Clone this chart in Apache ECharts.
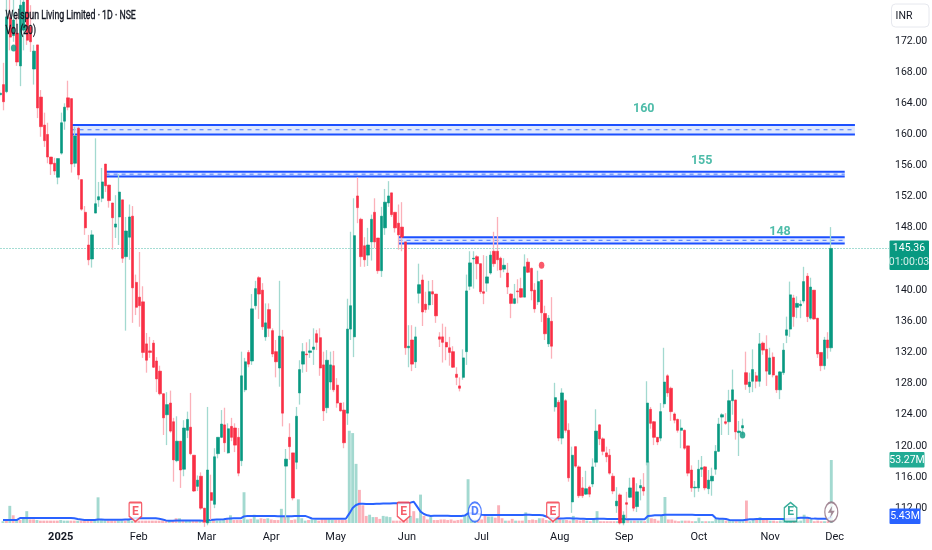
<!DOCTYPE html>
<html><head><meta charset="utf-8">
<style>html,body{margin:0;padding:0;background:#fff}#c{width:932px;height:550px}</style>
<script src="https://cdn.jsdelivr.net/npm/echarts@6/dist/echarts.min.js"></script>
</head><body><div id="c"></div>
<script>
const opens=[165.1,166.4,165.5,175.0,172.7,173.0,168.8,173.4,177.3,173.8,
168.4,171.5,164.8,161.2,160.0,157.1,156.3,154.5,157.6,161.7,
164.7,164.6,156.3,160.8,154.2,150.0,145.8,144.0,149.9,151.6,
151.8,156.2,153.5,151.2,148.1,149.4,151.6,144.3,146.8,149.5,
141.0,139.1,138.5,133.1,132.2,133.2,130.9,129.6,126.7,124.0,
125.5,123.1,118.1,120.6,117.0,122.0,122.4,118.8,114.8,116.1,
112.0,110.1,114.0,112.5,119.0,121.1,122.7,119.1,122.5,122.3,
121.1,118.1,127.2,132.0,130.9,138.0,141.6,140.0,134.0,137.5,
134.8,132.1,130.0,134.0,117.4,121.1,119.1,117.9,126.8,130.5,
131.8,132.0,132.4,134.4,133.9,130.4,124.9,128.2,130.3,127.8,
125.5,124.6,124.2,135.0,134.0,152.1,149.1,145.7,144.5,146.2,
150.0,146.7,142.5,148.0,151.2,152.5,150.0,148.6,148.1,146.2,
132.6,133.6,130.8,139.6,141.3,138.2,138.1,139.8,139.5,134.0,
134.0,133.3,132.6,132.1,129.2,127.7,128.8,132.1,140.5,144.0,
144.3,143.4,139.8,140.9,142.2,145.0,145.0,144.1,142.7,142.2,
139.5,138.3,139.9,140.2,139.1,143.6,142.8,140.0,138.5,141.3,
137.0,133.1,136.0,125.0,125.6,121.0,125.8,122.0,112.8,119.9,
117.3,114.6,113.8,114.7,115.1,117.9,122.7,120.9,119.1,118.8,
116.1,112.3,113.7,110.1,112.7,113.4,115.9,112.2,114.6,114.7,
117.9,124.7,123.1,121.1,121.0,125.4,129.0,127.4,124.1,123.4,
122.0,122.0,120.0,116.9,114.6,114.6,117.0,117.3,114.5,115.5,
117.0,119.3,123.7,123.1,123.1,125.8,125.9,121.7,122.3,129.4,
127.6,128.3,129.0,128.3,133.2,132.4,129.2,131.4,129.0,127.2,
129.4,134.2,135.0,139.0,137.8,138.0,138.6,141.8,136.4,140.0,
136.4,132.0,130.3,133.6,132.6];
const closes=[165.3,164.2,175.1,172.5,174.7,169.3,176.6,177.0,172.1,171.9,
170.7,163.4,161.0,159.2,157.1,156.2,155.3,156.9,161.5,163.5,
163.5,156.2,159.8,154.8,150.4,148.0,143.9,147.1,151.1,152.0,
153.9,153.4,151.5,149.3,148.5,152.6,144.1,147.6,149.4,140.3,
137.8,138.0,132.0,131.0,132.0,130.1,128.6,126.7,123.6,125.3,
121.9,118.2,120.6,116.9,122.3,123.4,119.0,114.2,115.6,112.0,
110.2,116.9,113.0,118.6,121.1,122.8,120.4,122.2,121.1,120.1,
116.5,129.0,130.8,130.5,137.6,140.2,139.5,135.3,135.8,135.1,
131.8,130.8,134.1,124.2,118.3,119.9,113.3,123.8,129.8,132.1,
131.7,132.2,132.7,133.3,130.0,124.5,131.0,130.4,127.2,125.5,
124.5,120.4,135.0,138.0,147.0,150.6,144.3,143.9,145.8,149.1,
146.2,142.5,149.5,151.3,152.1,149.7,148.0,147.1,146.8,132.6,
132.8,130.5,134.0,140.7,137.2,137.5,139.8,139.5,136.7,133.7,
133.3,132.7,132.0,130.1,128.8,127.4,131.3,139.9,143.5,144.1,
143.4,139.8,139.6,141.7,144.5,143.4,143.9,142.6,143.2,140.4,
138.3,138.9,139.8,139.1,143.0,142.3,139.9,137.6,141.1,137.1,
134.4,136.4,132.8,126.2,121.0,126.8,122.0,115.9,118.8,117.4,
113.6,113.6,114.5,113.8,117.3,121.9,120.9,119.3,118.6,116.5,
114.2,112.9,110.1,111.1,112.5,114.6,112.0,114.1,114.9,114.2,
125.5,122.9,121.1,120.5,124.4,128.2,126.8,124.4,123.3,122.0,
122.3,119.7,116.5,114.6,114.7,117.0,117.2,114.6,115.6,116.1,
119.3,122.8,124.0,122.9,125.8,127.2,121.8,121.9,122.6,127.9,
128.2,129.8,128.3,133.1,132.3,129.6,131.3,129.1,127.2,129.5,
132.3,134.9,139.4,136.6,138.3,138.2,141.1,136.6,140.4,136.3,
131.8,130.3,133.6,132.6,145.36];
const lows=[164.8,163.1,165.3,170.8,171.9,168.8,166.2,170.8,171.5,170.6,
166.4,162.1,159.7,158.4,156.3,154.8,154.8,153.6,157.4,160.6,
163.1,155.1,155.8,154.2,150.2,147.1,143.2,142.9,149.9,150.7,
151.3,152.6,150.6,145.2,146.7,145.8,143.5,134.8,143.9,135.8,
136.8,135.3,131.3,129.4,131.3,130.0,126.9,126.5,121.4,120.1,
121.7,115.4,117.9,114.6,116.1,121.0,118.8,114.1,114.2,111.8,
109.6,109.8,110.5,112.0,118.4,121.0,119.2,119.0,120.6,119.2,
116.1,117.4,126.9,130.1,130.4,137.5,136.3,134.9,133.5,134.0,
131.4,128.8,127.6,122.5,110.5,118.2,113.0,117.0,125.3,129.4,
129.5,131.3,130.4,132.3,129.0,123.2,124.2,127.2,126.9,124.9,
124.4,119.7,122.7,133.6,131.4,148.6,143.0,143.0,143.1,143.8,
145.4,142.1,141.7,147.1,150.7,149.4,147.4,145.2,145.0,131.7,
130.1,129.6,130.0,138.3,135.4,137.1,137.5,138.1,135.8,132.7,
130.7,131.0,130.3,130.0,127.8,127.0,128.5,130.4,140.0,140.2,
141.4,139.5,138.2,139.8,142.0,143.0,142.5,141.6,142.3,139.5,
136.4,138.2,138.3,139.0,139.1,142.2,138.7,137.1,138.1,135.9,
133.6,132.7,131.2,124.4,120.6,120.2,121.7,115.4,111.4,117.2,
113.3,113.3,113.7,113.4,114.7,117.3,120.1,118.8,117.9,116.3,
113.8,111.4,109.9,109.8,110.7,113.3,111.6,111.5,113.0,113.6,
117.5,122.2,120.1,120.1,120.6,124.9,126.3,123.2,122.9,121.7,
119.7,119.5,116.1,114.1,113.4,114.1,116.0,114.3,113.8,113.6,
116.3,119.2,121.4,122.7,121.4,124.0,120.8,118.7,121.4,127.2,
126.8,126.9,127.4,127.6,131.7,127.7,129.1,128.8,126.8,126.0,
129.1,133.2,134.0,135.3,136.4,136.4,138.3,135.9,136.2,136.2,
131.3,129.6,129.8,131.2,132.1];
const highs=[165.7,169.2,177.3,178,177.3,175.3,177.3,178,178,176.6,
171.5,171.5,165.7,162.8,161.5,157.1,157.0,156.9,162.8,164.0,
166.9,164.6,161.0,161.0,154.2,150.8,147.1,147.7,159.5,153.9,
155.7,156.2,153.5,151.2,152.2,154.9,151.6,149.4,151.0,150.8,
142.0,144.9,140.5,134.5,134.0,133.6,131.4,130.3,126.7,126.9,
127.1,123.6,123.8,120.6,123.3,124.4,126.8,118.8,116.2,116.6,
112.0,125.0,116.3,119.7,121.1,124.6,124.9,122.9,123.6,122.9,
122.3,132.1,131.3,132.3,139.5,141.2,141.8,140.9,138.3,138.3,
135.1,133.6,141.2,134.9,119.6,122.9,119.1,125.0,131.0,133.2,
133.3,133.7,135.1,134.9,135.1,132.1,132.3,132.1,132.2,128.7,
125.5,125.6,138.9,147.5,151.8,154.5,149.3,146.8,148.0,149.7,
151.8,146.7,150.7,153.0,154.0,152.5,150.0,151.0,151.3,146.2,
135.5,135.5,135.3,143.4,142.0,139.8,141.2,141.3,139.5,134.6,
135.7,135.3,134.0,132.8,130.1,128.8,132.4,142.0,145.0,145.0,
144.5,143.4,144.5,144.4,145.0,147.5,149.4,144.3,144.1,143.5,
139.6,140.8,141.4,141.6,144.6,144.1,142.9,140.9,142.5,141.3,
138.0,136.8,139.1,128.1,125.9,127.4,126.0,122.9,119.9,119.9,
117.5,116.0,116.8,114.9,118.4,124.7,122.8,121.1,119.9,119.6,
116.5,114.7,113.9,111.6,114.1,115.9,115.9,115.2,115.7,116.5,
128.3,125.0,123.2,121.1,125.5,132.6,129.2,127.6,124.3,123.5,
123.4,122.1,120.0,117.5,115.5,118.2,118.7,117.4,116.9,117.2,
120.1,123.6,124.2,124.2,127.2,129.8,125.9,123.2,123.5,132.1,
129.4,132.4,129.5,134.5,133.4,134.2,132.6,132.0,129.0,129.6,
133.2,136.6,141.1,139.4,139.2,138.7,143.0,142.2,141.6,140.0,
136.4,132.0,134.0,134.6,148.1];
const volumes=[1.5,2.5,14.5,6.5,2.5,2.5,5,10,3,3,
2.5,2,2,2,2,2,2,2.5,2,2,
2,2,2,2,2,2,2,2.5,21.7,2.5,
2,2,2,2,2,2,2,3,2,2,
2,2,2,2,2,2,2,2,2,2,
2,4,4,2,2,2,2,2,2,2,
2,3,3,2,2,2.5,3,6.5,2.5,2.5,
2.5,26,3,3.5,7,3,4,3.5,4,3,
2.5,2.5,12,6,5,2.5,3,20,4,2,
2.5,3,2.5,2,3,3,3,2.5,2.5,2.5,
2.5,2.5,78,76,50,28,15,6,7,5,
5,3.5,6,5.5,5,2,2,2,2,3,
6,10,4,24,6,3,5,2.5,2.5,3,
3,2.5,3,2,2.5,3,6.5,37,4,3,
3,3,6.5,5.5,5.5,4.5,15,4,2,2,
3.5,2,2,2,9,2.5,3,2.5,4,4,
2.5,2,2.5,2.5,3,2.5,2.5,2,6,2.5,
2,2.5,2,1.5,3.5,10,1.5,1.5,1.5,1.5,
1.5,1.5,1.5,7,2.5,2,2,2,2,1.5,
52,4,3.5,2,6,22,3,3,2,1.5,
2,2,2,1.5,1.5,4.5,1.5,1.5,1.5,1.5,
3.5,3,3,2,2,1.5,1.5,1.5,1.5,19,
1.5,3,3,5,3.5,3,2,2,1.5,2,
3,1.5,1.5,2,1.5,2,7,4.5,3.5,1.5,
2,1.5,1.5,1.5,53.27];
const volumeMA=[2.5,2.5,2.5,2.5,2.5,4.2,4.2,4.2,4.2,4.2,
4.3,4.3,4.3,4.3,4.3,4.3,4.3,4.2,4.2,4.2,
4.2,4.0,3.4,3.0,2.6,2.5,2.5,2.5,2.9,2.9,
2.8,2.8,2.8,2.8,2.8,2.8,2.9,2.9,3.5,4.0,
4.0,4.0,4.1,4.0,4.0,4.0,3.6,3.0,2.2,2.0,
2.0,2.1,2.2,2.2,2.2,2.2,2.1,2.1,2.1,2.0,
2.0,2.5,2.8,3.0,3.0,3.2,3.5,3.8,4.0,4.0,
4.0,5.6,5.9,5.9,6.0,6.0,6.0,6.0,6.0,5.9,
5.9,5.8,5.8,5.8,5.8,5.8,5.9,6.0,6.0,6.0,
5.0,3.8,3.6,3.6,3.6,3.6,3.6,3.6,3.6,3.6,
3.6,3.6,7.9,12.7,15.2,16.3,16.2,16.0,16.0,16.1,
16.2,16.3,16.4,16.5,16.5,16.6,16.7,16.7,16.7,17.0,
17.2,18.0,13.8,9.6,7.6,6.5,5.9,6.2,6.2,6.2,
6.1,6.1,6.0,6.0,6.0,6.0,6.3,8.2,8.2,8.0,
7.6,7.0,6.8,6.8,6.8,6.8,6.7,6.7,6.8,6.8,
6.8,6.8,6.8,6.8,6.9,6.9,6.8,6.8,6.8,6.6,
5.5,4.5,4.0,3.8,3.8,3.9,4.0,4.0,3.9,3.8,
3.6,3.5,3.4,3.4,3.4,3.5,3.5,3.5,3.4,3.4,
3.4,3.4,3.3,3.3,3.2,3.1,3.1,3.1,3.1,3.1,
5.9,6.2,6.5,6.5,6.6,7.0,7.0,7.0,7.0,7.0,
7.0,7.0,6.9,6.9,6.8,6.8,6.8,6.8,6.8,6.8,
4.0,3.6,3.6,3.3,2.6,2.4,2.3,2.3,2.3,2.8,
3.1,3.2,3.3,3.4,3.4,3.4,3.4,3.4,3.4,3.4,
3.4,3.4,3.5,3.5,4.2,4.5,4.5,4.5,3.9,3.7,
3.6,3.6,3.6,3.6,5.43];

const monthLabels=['2025','Feb','Mar','Apr','May','Jun','Jul','Aug','Sep','Oct','Nov','Dec'];
const monthBars=[17,40,60,79,98,119,141,164,183,205,226,245];
const blankBarsAfter=17;

const zoneNames=['160','155','148'];
const zoneTop=[161.2,155.2,146.8];
const zoneMid=[160.6,154.9,146.4];
const zoneBottom=[160.0,154.6,146.0];
const zoneStartBar=[21,31,117];
const zoneEndBar=[251,248,248];
const zoneNameBar=[189,206,229];
const zoneNamePrice=[163.3,156.65,147.5];

const dotBars=[4,7,159,218];
const dotPrices=[171.1,173.8,143.2,121.4];
const dotUp=[true,true,false,true];

const eventKinds=['E','E','D','E','E','bolt'];
const eventBars=[39,118,139,162,232,244];
const eventLevel=9.3;

const lastPrice=145.36, lastVol=53.27, lastMA=5.43;
const yTicks={min:108,max:176,step:4};

const UP='#089981',DOWN='#f92f45',UP_L='#a3d9d0',DOWN_L='#fbb1b9',BLUE='#1c50ff';
const FONT='"Liberation Sans Narrow","Roboto",sans-serif';
const n=opens.length;
const categories=Array.from({length:n+blankBarsAfter},(_,i)=>{const k=monthBars.indexOf(i);return k>=0?monthLabels[k]:'';});
const wickData=opens.map((o,i)=>[o,closes[i],lows[i],highs[i]]);
const bodyData=opens.map((o,i)=>[o,closes[i],Math.min(o,closes[i]),Math.max(o,closes[i])]);
const isUp=i=>closes[i]>=opens[i];

const zoneSeries=[];
zoneNames.forEach((z,k)=>{
  const seg=v=>[[zoneStartBar[k],v],[zoneEndBar[k],v]];
  const base={type:'line',showSymbol:false,symbol:'none',silent:true,z:3,xAxisIndex:0,yAxisIndex:0,clip:false};
  zoneSeries.push({...base,data:seg(zoneTop[k]),lineStyle:{color:BLUE,width:2}});
  zoneSeries.push({...base,data:seg(zoneBottom[k]),lineStyle:{color:BLUE,width:2}});
  zoneSeries.push({...base,data:seg(zoneMid[k]),lineStyle:{color:'#4a78ff',width:1,type:[4,4]},
    markArea:{silent:true,itemStyle:{color:'rgba(41,98,255,0.15)',borderWidth:0},
      data:[[{xAxis:zoneStartBar[k],yAxis:zoneTop[k]},{xAxis:zoneEndBar[k],yAxis:zoneBottom[k]}]]}});
});

const badgeDown='path://M1 0H11Q12 0 12 1V13L6 18L0 13V1Q0 0 1 0Z';
const badgeUp='path://M6 0L12 5V17Q12 18 11 18H1Q0 18 0 17V5Z';
const bolt='path://M6 0L1 8H5L3.5 14L9 5.5H5.2Z';
const eventColor={E:DOWN,D:'#2962ff',bolt:'#8d6b7c'};
const eventData=eventKinds.map((k,i)=>{
  const up=i===4; const col=k==='E'?(up?'#089981':'#f23645'):eventColor[k];
  return {value:[eventBars[i],eventLevel],
    symbol:k==='E'?(up?badgeUp:badgeDown):'circle',
    symbolSize:k==='E'?[12.5,19]:[13,19.5],
    itemStyle:{color:'#fff',borderColor:col,borderWidth:1.5},
    label:{show:k!=='bolt',formatter:k,position:'inside',color:col,fontFamily:FONT,fontSize:12,fontWeight:'bold'}};
});

const option={
  animation:false,backgroundColor:'#fff',
  grid:[
    {left:0,width:889,top:9.86,height:529.45},
    {left:0,width:889,top:404.7,height:118.3}
  ],
  xAxis:[
    {type:'category',gridIndex:0,data:categories,show:false,boundaryGap:false},
    {type:'category',gridIndex:1,data:categories,boundaryGap:false,axisLine:{show:false},axisTick:{show:false},
      axisLabel:{interval:0,margin:9,fontFamily:FONT,fontSize:11,color:'#131722',hideOverlap:false,
        formatter:v=>v==='2025'?'{b|2025}':v,rich:{b:{fontFamily:FONT,fontSize:11,fontWeight:'bold',color:'#131722'}}}}
  ],
  yAxis:[
    {type:'value',gridIndex:0,position:'right',min:yTicks.min,max:yTicks.max,interval:yTicks.step,
      axisLine:{show:false},axisTick:{show:false},splitLine:{show:false},
      axisLabel:{margin:6,fontFamily:FONT,fontSize:10.5,color:'#131722',
        formatter:v=>(v===108||v>=176)?'':v.toFixed(2)}},
    {type:'value',gridIndex:1,min:0,max:100,show:false,splitLine:{show:false}}
  ],
  series:[
    {type:'bar',xAxisIndex:1,yAxisIndex:1,barWidth:2.9,silent:true,z:1,data:volumes,clip:false,
      itemStyle:{color:p=>isUp(p.dataIndex)?UP_L:DOWN_L}},
    {type:'line',xAxisIndex:1,yAxisIndex:1,data:volumeMA,showSymbol:false,symbol:'none',silent:true,z:2,
      lineStyle:{color:'#2962ff',width:2}},
    ...zoneSeries,
    {type:'candlestick',xAxisIndex:0,yAxisIndex:0,barWidth:1.3,silent:true,z:4,data:wickData,clip:false,
      itemStyle:{color:UP_L,color0:DOWN_L,borderColor:UP_L,borderColor0:DOWN_L,borderWidth:1.3},
      markLine:{silent:true,symbol:'none',animation:false,label:{show:false},
        lineStyle:{color:'#a5ddd4',width:1,type:[2,1]},data:[{yAxis:lastPrice}]}},
    {type:'candlestick',xAxisIndex:0,yAxisIndex:0,barWidth:2.8,silent:true,z:5,data:bodyData,clip:false,
      itemStyle:{color:UP,color0:DOWN,borderColor:UP,borderColor0:DOWN,borderWidth:0.6}},
    {type:'scatter',xAxisIndex:0,yAxisIndex:0,symbolSize:[5.5,7],silent:true,z:6,
      data:dotBars.map((b,i)=>({value:[b,dotPrices[i]],itemStyle:{color:dotUp[i]?UP:DOWN}}))},
    {type:'scatter',xAxisIndex:1,yAxisIndex:1,silent:true,z:7,data:eventData},
    {type:'scatter',xAxisIndex:1,yAxisIndex:1,silent:true,z:8,symbol:bolt,symbolSize:[7,12],
      data:[[eventBars[5],eventLevel]],itemStyle:{color:'#8d6b7c'}},
    {type:'scatter',xAxisIndex:0,yAxisIndex:0,symbolSize:1,silent:true,z:9,itemStyle:{color:'transparent'},
      data:zoneNames.map((z,i)=>({value:[zoneNameBar[i],zoneNamePrice[i]],name:z})),
      label:{show:true,position:'inside',formatter:p=>p.name,fontFamily:FONT,fontSize:12.5,fontWeight:'bold',color:'#22ab94'}}
  ]
};
const chart=echarts.init(document.getElementById('c'),null,{renderer:'canvas'});
chart.setOption(option);

const yP=chart.convertToPixel({yAxisIndex:0},lastPrice);
const yV=chart.convertToPixel({yAxisIndex:1},lastVol);
const yM=chart.convertToPixel({yAxisIndex:1},lastMA);
const tag=(x,y,w,h,fill,lines)=>[
  {type:'rect',z:50,shape:{x,y,width:w,height:h,r:1},style:{fill}},
  ...lines.map(l=>({type:'text',z:51,style:{x:l.x,y:l.y,text:l.t,fill:l.c||'#fff',font:'10.5px '+FONT,textAlign:'center',textVerticalAlign:'middle'}}))
];
const headText=(t,y)=>({type:'text',z:60,x:5.5,y,scaleX:0.73,style:{x:0,y:0,text:t,fill:'#131722',stroke:'#131722',lineWidth:0.35,font:'12px '+FONT,textAlign:'left',textVerticalAlign:'middle'}});
chart.setOption({graphic:[
  headText('Welspun Living Limited · 1D · NSE',16),
  headText('Vol (20)',31),
  {type:'rect',z:50,shape:{x:891.5,y:4,width:37.5,height:23,r:4},style:{fill:'#fff',stroke:'#e6e8ee',lineWidth:1}},
  {type:'text',z:51,style:{x:904,y:16,text:'INR',fill:'#131722',font:'10.5px '+FONT,textAlign:'center',textVerticalAlign:'middle'}},
  ...tag(889.5,yP-8,39.5,29.5,'#089981',[{x:909,y:yP,t:lastPrice.toFixed(2)},{x:909,y:yP+14,t:'01:00:03',c:'#d6efea'}]),
  ...tag(889.5,yV-8,35,15.5,'#22ab94',[{x:907,y:yV,t:lastVol.toFixed(2)+'M'}]),
  ...tag(889.5,yM-8,31,15.5,'#2962ff',[{x:905,y:yM,t:lastMA.toFixed(2)+'M'}])
]});
</script></body></html>
